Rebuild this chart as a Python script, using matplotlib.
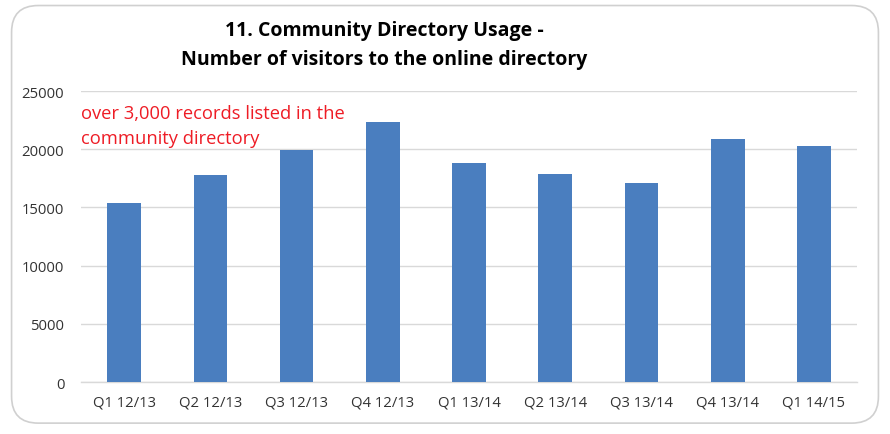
import matplotlib.pyplot as plt
from matplotlib.patches import FancyBboxPatch

quarters = ["Q1 12/13", "Q2 12/13", "Q3 12/13", "Q4 12/13", "Q1 13/14",
            "Q2 13/14", "Q3 13/14", "Q4 13/14", "Q1 14/15"]
visitors = [15350, 17780, 19950, 22340, 18790, 17840, 17100, 20900, 20250]
yticks = [0, 5000, 10000, 15000, 20000, 25000]

plt.rcParams['font.family'] = ['Open Sans', 'DejaVu Sans']

fig = plt.figure(figsize=(8.9, 4.35), dpi=100)

# rounded frame around the chart
frame = FancyBboxPatch((0.013, 0.025), 0.974, 0.96, boxstyle="round,pad=0,rounding_size=0.03",
                       transform=fig.transFigure, facecolor="none", edgecolor="#D0D0D0",
                       linewidth=1.2, mutation_aspect=890/435, zorder=-1)
fig.patches.append(frame)

ax = fig.add_axes([0.091, 0.1195, 0.872, 0.669])
x = range(len(quarters))
ax.bar(x, visitors, width=0.39, color="#4A7EBF", zorder=3)

ax.set_xlim(-0.5, len(quarters) - 0.5)
ax.set_ylim(0, 25000)
ax.set_yticks(yticks)
ax.set_xticks(list(x))
ax.set_xticklabels(quarters)
ax.tick_params(axis='both', length=0, labelsize=10.7, colors="#333333")
ax.tick_params(axis='x', pad=9)
ax.tick_params(axis='y', pad=12)
ax.grid(axis='y', color="#D9D9D9", linewidth=1, zorder=0)
for s in ["top", "right", "left"]:
    ax.spines[s].set_visible(False)
ax.spines["bottom"].set_color("#D9D9D9")
ax.spines["bottom"].set_linewidth(1)

ax.text(0.0, 0.955, "over 3,000 records listed in the\ncommunity directory",
        transform=ax.transAxes, color="#EE1C25", fontsize=13.2,
        va="top", ha="left", linespacing=1.5)

fig.text(0.432, 0.951, "11. Community Directory Usage -\nNumber of visitors to the online directory",
         ha="center", va="top", fontsize=14, fontweight="bold", linespacing=1.55)

fig.savefig("out.png", dpi=100)
